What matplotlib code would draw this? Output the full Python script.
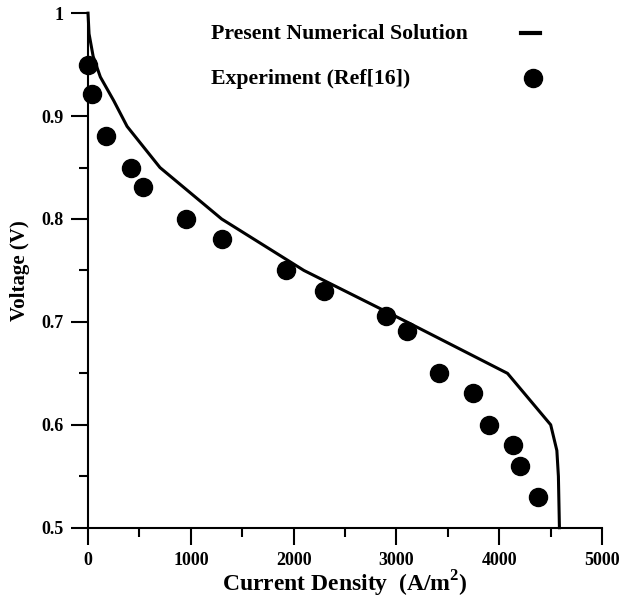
import numpy as np
import matplotlib.pyplot as plt
from matplotlib.lines import Line2D
from matplotlib.ticker import MultipleLocator, FixedFormatter, FixedLocator

# Numerical solution (polarisation curve)
num_current = [0, 10, 50, 120, 250, 380, 540, 700, 1300, 2100, 3100, 4080, 4500, 4560, 4575, 4585]
num_voltage = [1.0, 0.98, 0.958, 0.938, 0.915, 0.89, 0.87, 0.85, 0.80, 0.75, 0.70, 0.65, 0.60, 0.575, 0.55, 0.50]

# Experiment (Ref[16])
exp_current = [0, 36, 175, 418, 531, 950, 1300, 1923, 2300, 2899, 3100, 3418, 3748, 3904, 4131, 4202, 4373]
exp_voltage = [0.95, 0.921, 0.881, 0.85, 0.831, 0.80, 0.781, 0.75, 0.7305, 0.706, 0.691, 0.65, 0.631, 0.60, 0.58, 0.56, 0.53]

x_ticks = [0, 1000, 2000, 3000, 4000, 5000]
y_ticks = [0.5, 0.6, 0.7, 0.8, 0.9, 1.0]
y_tick_labels = ["0.5", "0.6", "0.7", "0.8", "0.9", "1"]

plt.rcParams['font.family'] = ['Liberation Serif', 'DejaVu Serif']
plt.rcParams['font.weight'] = 'bold'
plt.rcParams['mathtext.fontset'] = 'custom'
plt.rcParams['mathtext.rm'] = 'Liberation Serif:bold'

W, H = 622, 600
fig = plt.figure(figsize=(W / 100, H / 100), dpi=100)
ax = fig.add_axes([0.1415, 0.1205, 0.968 - 0.1415, 0.978 - 0.1205])

ax.plot(num_current, num_voltage, color='black', lw=2.2, clip_on=False)
ax.plot(exp_current, exp_voltage, 'o', color='black', ms=13, ls='none', clip_on=False)

ax.set_xlim(0, 5000)
ax.set_ylim(0.5, 1.0)

ax.xaxis.set_major_locator(FixedLocator(x_ticks))
ax.xaxis.set_minor_locator(MultipleLocator(500))
ax.yaxis.set_major_locator(FixedLocator(y_ticks))
ax.yaxis.set_major_formatter(FixedFormatter(y_tick_labels))
ax.yaxis.set_minor_locator(MultipleLocator(0.05))

for s in ['top', 'right']:
    ax.spines[s].set_visible(False)
for s in ['left', 'bottom']:
    ax.spines[s].set_linewidth(1.5)

ax.tick_params(which='major', direction='out', length=12.5, width=1.5, labelsize=13, pad=5)
ax.tick_params(which='minor', direction='out', length=6.5, width=1.5)

ax.set_xlabel('Current Density  (A/m$^{2}$)', fontsize=17, fontweight='bold', labelpad=0)
ax.set_ylabel('Voltage (V)', fontsize=15, fontweight='bold', labelpad=8)

# legend drawn by hand: labels left-aligned, symbols in a column on the right
fig.text(211 / W, 1 - 34 / H, 'Present Numerical Solution', fontsize=15.7, fontweight='bold',
         ha='left', va='center')
fig.text(211 / W, 1 - 79 / H, 'Experiment (Ref[16])', fontsize=15.7, fontweight='bold',
         ha='left', va='center')
fig.add_artist(Line2D([521 / W, 540 / W], [1 - 33 / H, 1 - 33 / H], color='black', lw=3,
                      transform=fig.transFigure))
fig.add_artist(Line2D([533 / W], [1 - 78 / H], marker='o', ms=13, color='black', ls='none',
                      transform=fig.transFigure))

fig.savefig('out.png', dpi=100)
